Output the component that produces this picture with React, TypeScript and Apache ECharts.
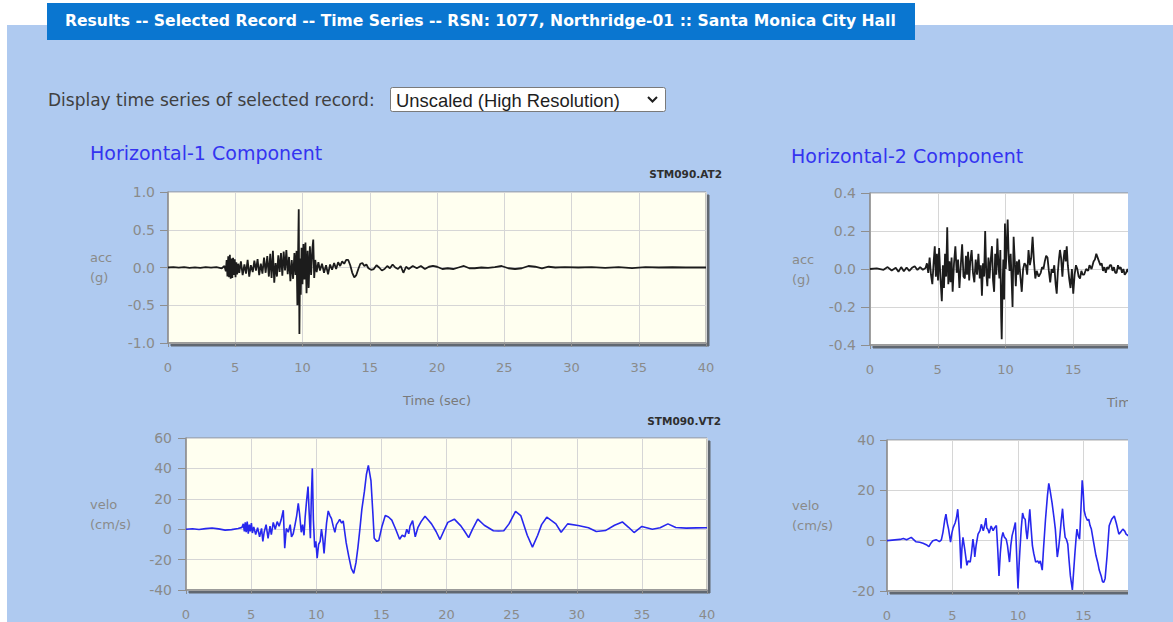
import React, { useEffect, useRef } from "react";
import * as echarts from "echarts";

// ---- Record metadata -------------------------------------------------------
const HEADER_TEXT =
  "Results -- Selected Record -- Time Series -- RSN: 1077, Northridge-01 :: Santa Monica City Hall";
const SELECT_LABEL = "Display time series of selected record:";
const SELECT_VALUE = "Unscaled (High Resolution)";
const COMPONENT_TITLES = ["Horizontal-1 Component", "Horizontal-2 Component"];
const FILE_NAMES = ["STM090.AT2", "STM090.VT2"];
const TIME_AXIS_NAME = "Time (sec)";
const ACC_AXIS_NAME = "acc\n(g)";
const VEL_AXIS_NAME = "velo\n(cm/s)";

// time axis (seconds)
const TIME_MIN = 0;
const TIME_MAX = 40;
const TIME_STEP = 5;

// value axes [min, max, step]
const H1_ACC_RANGE = [-1, 1, 0.5];
const H1_VEL_RANGE = [-40, 60, 20];
const H2_ACC_RANGE = [-0.4, 0.4, 0.2];
const H2_VEL_RANGE = [-20, 40, 20];

// ---- Horizontal-1 acceleration [t (s), acc (g)] -----------------------------
const H1_ACC: [number, number][] = [
  [0, 0], [0.4, 0.004], [0.8, -0.003], [1.2, 0.005], [1.6, -0.004], [2.0, 0.003], [2.4, -0.005],
  [2.8, 0.004], [3.2, -0.003], [3.6, 0.006], [4.0, -0.01], [4.2, 0.02],
  [4.3, -0.05], [4.36, 0.1], [4.42, -0.12], [4.48, 0.15], [4.54, -0.13], [4.6, 0.17], [4.66, -0.15],
  [4.72, 0.12], [4.78, -0.14], [4.84, 0.13], [4.9, -0.1], [4.96, 0.11], [5.02, -0.13], [5.08, 0.07],
  [5.14, -0.09], [5.22, 0.05], [5.3, -0.07], [5.42, 0.08], [5.55, -0.1], [5.68, 0.04], [5.8, -0.08],
  [5.92, 0.1], [6.04, -0.12], [6.16, 0.03], [6.3, -0.06], [6.42, 0.09], [6.54, -0.04], [6.66, 0.11],
  [6.78, -0.1], [6.9, 0.05], [7.02, -0.08], [7.14, 0.13], [7.26, -0.07], [7.38, 0.15], [7.5, -0.12],
  [7.6, 0.18], [7.7, -0.14], [7.8, 0.22], [7.9, -0.2], [8.0, 0.06], [8.1, -0.12], [8.2, 0.16],
  [8.3, -0.06], [8.4, 0.19], [8.5, -0.11], [8.6, 0.21], [8.7, -0.04], [8.8, 0.23], [8.9, -0.09],
  [9.0, 0.14], [9.1, -0.18], [9.2, 0.1], [9.3, -0.15], [9.4, 0.19], [9.48, -0.1], [9.56, 0.22],
  [9.62, -0.5], [9.67, 0.15], [9.72, 0.77], [9.77, -0.88], [9.82, 0.12], [9.87, -0.36], [9.93, 0.26],
  [10.0, -0.22], [10.07, 0.31], [10.14, -0.16], [10.22, 0.33], [10.3, -0.34], [10.38, 0.22],
  [10.46, -0.27], [10.55, 0.28], [10.64, -0.1], [10.73, 0.24], [10.8, 0.37], [10.87, -0.14],
  [10.95, 0.1], [11.05, -0.06], [11.18, 0.07], [11.3, -0.04], [11.45, 0.05], [11.6, -0.07],
  [11.75, 0.03], [11.9, -0.09], [12.05, 0.04], [12.2, -0.03], [12.35, 0.06], [12.5, -0.02],
  [12.65, 0.07], [12.8, 0.02], [12.95, 0.08], [13.1, 0.05], [13.25, 0.1], [13.4, 0.1], [13.55, 0.03],
  [13.7, -0.07], [13.85, -0.13], [14.0, -0.1], [14.15, -0.02], [14.3, 0.05], [14.45, 0.06],
  [14.6, 0.02], [14.75, 0.04], [14.9, -0.01], [15.1, -0.03], [15.3, -0.02], [15.5, 0.03], [15.7, 0.0],
  [15.9, -0.04], [16.1, -0.02], [16.3, 0.02], [16.5, -0.01], [16.7, 0.04], [16.9, 0.0], [17.1, -0.02],
  [17.3, 0.02], [17.5, -0.07], [17.7, 0.01], [17.9, -0.02], [18.2, 0.02], [18.5, -0.01], [18.8, 0.02],
  [19.1, -0.02], [19.4, 0.01], [19.7, 0.02], [20.0, 0.01], [20.4, -0.02], [20.8, -0.01], [21.2, -0.02],
  [21.6, 0.0], [22.0, 0.02], [22.4, -0.01], [22.8, -0.01], [23.3, 0.0], [23.8, -0.005], [24.3, 0.005],
  [24.8, 0.02], [25.3, -0.01], [25.8, -0.02], [26.3, -0.01], [26.8, 0.02], [27.3, 0.01], [27.8, -0.01],
  [28.3, 0.01], [28.8, 0.0], [29.5, 0.005], [30.5, 0.0], [31.5, 0.005], [32.5, -0.005], [33.5, 0.005],
  [34.5, -0.008], [35.5, 0.005], [36.5, 0.0], [37.5, 0.003], [38.5, 0.0], [39.5, 0.002], [40, 0],
];

// ---- Horizontal-1 velocity [t (s), vel (cm/s)] ------------------------------
const H1_VEL: [number, number][] = [
  [0, 0], [0.5, 0.3], [1.0, -0.2], [1.5, 0.4], [2.0, 0.8], [2.5, 0.2], [3.0, -0.6], [3.5, -0.3],
  [4.0, 0.5], [4.3, 1.2], [4.4, 3.5], [4.48, -1.5], [4.55, 4.5], [4.62, -2], [4.7, 5], [4.78, -3],
  [4.86, 3], [4.94, -1.5], [5.02, 4], [5.1, -2.5], [5.2, 1.5], [5.35, -3.5], [5.5, 1], [5.65, -5],
  [5.8, 0.5], [5.9, -8], [6.0, -2], [6.15, 3], [6.3, -6], [6.45, 2], [6.55, -3.5], [6.7, 4.5],
  [6.85, 0], [7.0, 5], [7.15, 2], [7.3, 6], [7.47, 12.5], [7.58, -12.5], [7.7, 0.5], [7.85, -2],
  [8.0, 3], [8.1, -5], [8.23, -3], [8.35, 2], [8.5, 9], [8.62, 17], [8.72, 10], [8.85, -2], [8.95, 3],
  [9.06, -4], [9.15, 8], [9.25, 18], [9.37, 28], [9.45, 12], [9.55, -6], [9.62, 20], [9.7, 40],
  [9.78, 6], [9.88, -12], [9.97, -8], [10.07, -19], [10.18, -10], [10.3, -8], [10.4, 0], [10.5, -6],
  [10.6, -16], [10.7, -5], [10.79, 4], [10.92, 12], [11.05, 9], [11.17, 7], [11.3, 2], [11.43, -2],
  [11.55, 3], [11.7, 5], [11.8, 6.5], [11.95, 4], [12.07, 5.5], [12.3, -9], [12.5, -18], [12.7, -26],
  [12.88, -29], [13.05, -22], [13.2, -12], [13.35, 0], [13.5, 13], [13.7, 25], [13.85, 36], [14.0, 42],
  [14.2, 32], [14.35, 10], [14.45, -6], [14.65, -8], [14.8, -7.5], [15.05, 2], [15.3, 9], [15.55, 8],
  [15.8, 6], [16.1, 0], [16.4, -6.6], [16.6, -4], [16.8, -5], [16.95, 0], [17.1, -3], [17.2, 2],
  [17.4, 5.6], [17.6, -5], [17.8, 1], [18.05, 5], [18.35, 8.5], [18.6, 6], [18.85, 3.5], [19.2, -1.5],
  [19.5, -6.8], [19.8, -1], [20.1, 4.5], [20.6, 6.6], [21.1, 2.2], [21.4, -1.5], [21.7, -5.5],
  [22.0, 0], [22.4, 6.6], [22.9, 2.6], [23.6, -1], [24.0, -1.2], [24.4, -1], [24.8, 3.5], [25.3, 11.8],
  [25.7, 9], [26.2, -4], [26.6, -11.8], [27.0, -4], [27.3, 3], [27.7, 7.9], [28.4, 3.5], [28.8, -2],
  [29.3, 3.5], [30.1, 2.4], [30.9, 0.9], [31.5, -1.5], [32.2, -0.9], [32.9, 2.6], [33.5, 4.8],
  [34.0, 1.1], [34.4, -2.2], [35.0, 1.8], [35.8, 0], [36.4, 0.9], [37.0, 3.5], [37.6, 1.1],
  [38.4, 0.7], [39.2, 0.9], [40, 1],
];

// ---- Horizontal-2 acceleration [t (s), acc (g)] -----------------------------
const H2_ACC: [number, number][] = [
  [0, 0], [0.5, 0.003], [1.0, -0.004], [1.3, 0.01], [1.6, -0.008], [1.9, 0.006], [2.1, -0.015],
  [2.3, 0.01], [2.5, -0.012], [2.7, 0.008], [2.9, -0.01], [3.1, 0.006], [3.3, 0.015], [3.5, -0.005],
  [3.7, 0.01], [3.9, -0.004], [4.1, 0.005], [4.2, 0.03], [4.3, -0.02], [4.4, 0.06], [4.5, -0.03],
  [4.6, -0.08], [4.7, 0.04], [4.78, 0.12], [4.86, -0.04], [4.94, 0.08], [5.02, -0.06], [5.1, 0.11],
  [5.2, -0.05], [5.3, -0.17], [5.38, 0.02], [5.46, -0.1], [5.54, 0.08], [5.62, -0.04], [5.7, 0.22],
  [5.78, -0.08], [5.86, 0.04], [5.94, -0.07], [6.02, 0.06], [6.1, -0.12], [6.2, 0.03], [6.3, 0.12],
  [6.4, -0.02], [6.5, 0.05], [6.6, -0.1], [6.7, 0.02], [6.8, 0.13], [6.9, -0.04], [7.0, -0.05],
  [7.08, 0.07], [7.16, -0.03], [7.24, 0.09], [7.32, -0.06], [7.4, 0.04], [7.5, 0.1], [7.6, -0.02],
  [7.7, -0.07], [7.8, 0.05], [7.9, -0.03], [8.0, 0.08], [8.1, -0.05], [8.18, 0.02], [8.26, -0.14],
  [8.34, 0.03], [8.42, -0.04], [8.5, 0.2], [8.58, -0.02], [8.66, -0.09], [8.74, 0.06], [8.82, -0.05],
  [8.9, 0.04], [9.0, 0.12], [9.08, -0.06], [9.16, -0.12], [9.24, 0.08], [9.32, -0.03], [9.4, 0.16],
  [9.48, 0.02], [9.55, -0.05], [9.62, 0.1], [9.68, -0.25], [9.72, -0.37], [9.78, -0.1], [9.84, 0.05],
  [9.9, -0.16], [9.96, 0.24], [10.02, 0.0], [10.08, 0.1], [10.16, 0.26], [10.24, 0.05], [10.3, -0.01],
  [10.38, 0.08], [10.45, -0.05], [10.52, -0.2], [10.6, 0.17], [10.68, 0.05], [10.76, -0.09],
  [10.84, 0.04], [10.92, -0.03], [11.0, 0.05], [11.1, -0.04], [11.2, -0.12], [11.3, 0.0], [11.4, 0.03],
  [11.5, 0.02], [11.6, -0.03], [11.7, 0.1], [11.8, 0.02], [11.9, 0.06], [12.0, 0.17], [12.1, 0.04],
  [12.2, -0.05], [12.3, -0.01], [12.45, -0.04], [12.6, -0.02], [12.7, 0.01], [12.8, 0.0], [12.9, 0.04],
  [13.0, 0.07], [13.1, 0.06], [13.2, -0.01], [13.3, -0.07], [13.4, 0.0], [13.5, -0.02], [13.6, 0.02],
  [13.7, -0.08], [13.78, -0.13], [13.86, -0.02], [13.94, 0.05], [14.02, 0.1], [14.1, 0.06],
  [14.2, -0.04], [14.28, 0.05], [14.36, 0.1], [14.44, 0.04], [14.52, 0.12], [14.6, 0.02], [14.7, -0.05],
  [14.8, -0.1], [14.9, 0.0], [15.0, -0.13], [15.1, -0.03], [15.2, 0.02], [15.3, 0.0], [15.4, -0.04],
  [15.5, -0.05], [15.6, -0.01], [15.7, -0.03], [15.8, -0.03], [15.95, 0.0], [16.1, -0.01], [16.2, 0.02],
  [16.35, 0.0], [16.5, 0.04], [16.6, 0.05], [16.7, 0.08], [16.8, 0.06], [16.9, 0.04], [17.0, 0.02],
  [17.1, 0.03], [17.2, -0.01], [17.3, 0.01], [17.4, -0.02], [17.5, 0.01], [17.6, 0.0], [17.7, 0.02],
  [17.8, 0.02], [17.9, -0.01], [18.0, 0.01], [18.1, -0.02], [18.2, -0.02], [18.3, 0.02], [18.4, 0.0],
  [18.5, 0.01], [18.6, -0.02], [18.7, 0.0], [18.8, -0.03], [18.9, -0.02], [19.0, 0.0], [19.1, -0.02],
  [19.3, 0.01], [19.5, -0.01],
];

// ---- Horizontal-2 velocity [t (s), vel (cm/s)] ------------------------------
const H2_VEL: [number, number][] = [
  [0, 0], [0.6, 0.3], [1.0, 0.5], [1.25, 0.9], [1.5, 0.4], [1.85, 1.3], [2.2, -0.4], [2.5, -0.6],
  [2.75, -1], [3.0, -1.6], [3.2, -2.4], [3.35, -1], [3.5, 0], [3.75, 0.4], [4.0, -0.4], [4.15, 0.3],
  [4.27, 3.3], [4.4, 8], [4.5, 10.5], [4.6, 7], [4.7, 4.6], [4.85, -0.6], [4.95, 3], [5.05, 5.2],
  [5.2, 7], [5.3, 9], [5.4, 12.5], [5.48, 7], [5.55, 1.3], [5.65, -11], [5.72, -3], [5.8, 1.3],
  [5.95, -4], [6.1, -9.8], [6.2, -8], [6.35, -8.5], [6.45, -5], [6.56, 0.6], [6.65, -3], [6.7, -6.5],
  [6.8, -2], [6.95, 2.6], [7.1, 4], [7.2, 6.5], [7.35, 3.9], [7.45, 6], [7.55, 9], [7.62, 5], [7.7, 4.5],
  [7.8, 3], [7.95, 5.8], [8.1, 4], [8.2, 5], [8.35, 6], [8.45, -3], [8.55, -14], [8.65, -5], [8.75, 1],
  [8.85, 3.3], [8.95, 1.5], [9.1, 0.6], [9.2, -2], [9.35, -8.5], [9.45, -2], [9.55, 2], [9.65, 4],
  [9.8, 7.2], [9.9, -6], [10.0, -19], [10.08, -10], [10.15, -3.3], [10.25, 5], [10.35, 11], [10.45, 9],
  [10.55, 8.5], [10.62, 4], [10.7, 0.6], [10.8, 6], [10.9, 12.5], [11.0, 5], [11.1, -2], [11.2, -5],
  [11.35, -8.5], [11.5, -8], [11.6, -9], [11.7, -8], [11.85, -11.7], [11.95, -3], [12.1, 8.5],
  [12.25, 18], [12.35, 22.8], [12.45, 20], [12.6, 15], [12.75, 9], [12.85, 4.6], [13.0, -6.5],
  [13.1, -3], [13.2, 2], [13.3, 8], [13.4, 12.7], [13.5, 6], [13.6, 1.3], [13.7, 0.5], [13.8, -1.3],
  [13.9, -8], [14.0, -14], [14.15, -19.6], [14.25, -12], [14.35, -4.6], [14.45, 2], [14.5, 4.6],
  [14.6, 2], [14.7, 0.6], [14.8, 12], [14.9, 24], [14.97, 20], [15.05, 12], [15.15, 9.8], [15.3, 8],
  [15.4, 8.5], [15.5, 6], [15.6, 4.6], [15.75, 0], [15.95, -5.9], [16.1, -9], [16.2, -11.7],
  [16.35, -14], [16.45, -16.3], [16.55, -16.5], [16.65, -15], [16.8, -6], [16.96, 5.9], [17.15, 8.5],
  [17.35, 9.8], [17.5, 7], [17.7, 2.6], [17.85, 3.5], [18.0, 4.6], [18.15, 3.8], [18.25, 2.6],
  [18.4, 2], [18.6, 1.5], [18.8, 2.5], [19.0, 3], [19.3, 1],
];

// ---- Look ------------------------------------------------------------------
const FONT = "DejaVu Sans";
const PAGE_BG = "#ffffff";
const PANEL_BG = "#afcaf0";
const TAB_BG = "#0a76d0";
const AXIS_GREY = "#8a8a8a";
const LINE_GREY = "#8e8e8e";
const SPLIT_GREY = "#d6d6d6";
const ACC_COLOR = "#1c1c1c";
const VEL_COLOR = "#2727ee";
const TITLE_BLUE = "#3434f0";

// The drawing surface is wider than the visible page column; the right-hand
// plots run past the column edge and are cut off there.
const SURFACE_WIDTH = 1440;
const COLUMN_WIDTH = 1128;

type Panel = {
  data: [number, number][];
  range: number[];
  digits: number;
  color: string;
  plotBg: string;
  box: { left: number; top: number; width: number; height: number };
  yLabelMargin: number;
  yTickLen: number;
  yNameGap: number;
  yName: string;
  xName?: string;
  // last time tick that still falls inside the page column
  lastTick: number;
};

const PANELS: Panel[] = [
  {
    data: H1_ACC, range: H1_ACC_RANGE, digits: 1, color: ACC_COLOR, plotBg: "#fffff0",
    box: { left: 168, top: 192, width: 538, height: 151 },
    yLabelMargin: 13, yTickLen: 8, yNameGap: 78, yName: ACC_AXIS_NAME, xName: TIME_AXIS_NAME,
    lastTick: 40,
  },
  {
    data: H1_VEL, range: H1_VEL_RANGE, digits: 0, color: VEL_COLOR, plotBg: "#fffff0",
    box: { left: 186, top: 438, width: 521, height: 152 },
    yLabelMargin: 14, yTickLen: 8, yNameGap: 96, yName: VEL_AXIS_NAME,
    lastTick: 40,
  },
  {
    data: H2_ACC, range: H2_ACC_RANGE, digits: 1, color: ACC_COLOR, plotBg: "#ffffff",
    box: { left: 870, top: 193, width: 542, height: 152 },
    yLabelMargin: 14, yTickLen: 9, yNameGap: 78, yName: ACC_AXIS_NAME, xName: TIME_AXIS_NAME,
    lastTick: 15,
  },
  {
    data: H2_VEL, range: H2_VEL_RANGE, digits: 0, color: VEL_COLOR, plotBg: "#ffffff",
    box: { left: 887, top: 440, width: 524, height: 153 },
    yLabelMargin: 12, yTickLen: 7, yNameGap: 95, yName: VEL_AXIS_NAME,
    lastTick: 15,
  },
];

function buildOption() {
  const axisText = { color: AXIS_GREY, fontFamily: FONT, fontSize: 13 };

  const grid = PANELS.map((p) => ({
    ...p.box,
    show: true,
    backgroundColor: p.plotBg,
    borderColor: LINE_GREY,
    borderWidth: 1,
    shadowColor: "rgba(70,70,70,0.75)",
    shadowBlur: 1,
    shadowOffsetX: 3,
    shadowOffsetY: 3,
  }));

  const xAxis = PANELS.map((p, i) => ({
    type: "value",
    gridIndex: i,
    min: TIME_MIN,
    max: TIME_MAX,
    interval: TIME_STEP,
    name: p.xName || "",
    nameLocation: "middle",
    nameGap: 57,
    nameTextStyle: { ...axisText, color: "#7a7a7a", verticalAlign: "middle" },
    axisLine: { show: true, onZero: false, lineStyle: { color: LINE_GREY, width: 1.5 } },
    axisTick: { show: true, length: 4, lineStyle: { color: LINE_GREY } },
    axisLabel: {
      ...axisText,
      margin: 18,
      formatter: (v: number) => (v > p.lastTick ? "" : String(v)),
    },
    splitLine: { show: true, lineStyle: { color: SPLIT_GREY, width: 1 } },
  }));

  const yAxis = PANELS.map((p, i) => ({
    type: "value",
    gridIndex: i,
    min: p.range[0],
    max: p.range[1],
    interval: p.range[2],
    name: p.yName,
    nameLocation: "middle",
    nameRotate: 0,
    nameGap: p.yNameGap,
    nameTextStyle: {
      ...axisText,
      fontSize: 13,
      align: "left",
      verticalAlign: "middle",
      lineHeight: 20,
    },
    axisLine: { show: true, onZero: false, lineStyle: { color: LINE_GREY, width: 1.5 } },
    axisTick: { show: true, length: p.yTickLen, lineStyle: { color: LINE_GREY } },
    axisLabel: {
      ...axisText,
      fontSize: 14,
      margin: p.yLabelMargin,
      formatter: (v: number) => v.toFixed(p.digits),
    },
    splitLine: { show: true, lineStyle: { color: SPLIT_GREY, width: 1 } },
  }));

  const series = PANELS.map((p, i) => ({
    type: "line",
    xAxisIndex: i,
    yAxisIndex: i,
    data: p.data,
    showSymbol: false,
    symbol: "none",
    silent: true,
    clip: true,
    lineStyle: { color: p.color, width: p.color === ACC_COLOR ? 1.8 : 1.6 },
    z: 3,
  }));

  const graphic = [
    // page tab header
    {
      type: "rect",
      shape: { x: 47, y: 3, width: 868, height: 37 },
      style: { fill: TAB_BG },
    },
    {
      type: "text",
      x: 65,
      y: 21,
      style: {
        text: HEADER_TEXT,
        fill: "#ffffff",
        fontFamily: FONT,
        fontWeight: "bold",
        fontSize: 15.6,
        verticalAlign: "middle",
      },
    },
    // record selector
    {
      type: "text",
      x: 48,
      y: 100,
      style: {
        text: SELECT_LABEL,
        fill: "#404040",
        fontFamily: FONT,
        fontSize: 17,
        verticalAlign: "middle",
      },
    },
    {
      type: "rect",
      shape: { x: 390.5, y: 87.5, width: 275, height: 24, r: 2 },
      style: { fill: "#ffffff", stroke: "#7a7a7a", lineWidth: 1 },
    },
    {
      type: "text",
      x: 396,
      y: 100,
      style: {
        text: SELECT_VALUE,
        fill: "#1e1e1e",
        fontFamily: "Liberation Sans",
        fontSize: 18.4,
        verticalAlign: "middle",
      },
    },
    {
      type: "polyline",
      shape: { points: [[648, 97], [652.5, 101.5], [657, 97]] },
      style: { stroke: "#1e1e1e", lineWidth: 2, fill: "none" },
    },
    // component titles
    {
      type: "text",
      x: 90,
      y: 153,
      style: {
        text: COMPONENT_TITLES[0],
        fill: TITLE_BLUE,
        fontFamily: FONT,
        fontSize: 19,
        verticalAlign: "middle",
      },
    },
    {
      type: "text",
      x: 791,
      y: 156,
      style: {
        text: COMPONENT_TITLES[1],
        fill: TITLE_BLUE,
        fontFamily: FONT,
        fontSize: 19,
        verticalAlign: "middle",
      },
    },
    // file tags
    {
      type: "text",
      x: 722,
      y: 174,
      style: {
        text: FILE_NAMES[0],
        fill: "#2e2e2e",
        fontFamily: FONT,
        fontWeight: "bold",
        fontSize: 10.5,
        align: "right",
        verticalAlign: "middle",
      },
    },
    {
      type: "text",
      x: 721,
      y: 421,
      style: {
        text: FILE_NAMES[1],
        fill: "#2e2e2e",
        fontFamily: FONT,
        fontWeight: "bold",
        fontSize: 10.5,
        align: "right",
        verticalAlign: "middle",
      },
    },
  ];

  return {
    animation: false,
    backgroundColor: "transparent",
    grid,
    xAxis,
    yAxis,
    series,
    graphic,
  };
}

export default function App() {
  const ref = useRef<HTMLDivElement>(null);

  useEffect(() => {
    if (!ref.current) return;
    const chart = echarts.init(ref.current, undefined, { renderer: "svg" });
    chart.setOption(buildOption() as any);
    return () => chart.dispose();
  }, []);

  return (
    <div
      style={{
        position: "fixed",
        left: 0,
        top: 0,
        width: 1173,
        height: 622,
        background: PAGE_BG,
        overflow: "hidden",
      }}
    >
      <div
        style={{
          position: "absolute",
          left: 7,
          top: 25,
          width: 1166,
          height: 597,
          background: PANEL_BG,
        }}
      />
      <div
        style={{
          position: "absolute",
          left: 0,
          top: 0,
          width: COLUMN_WIDTH,
          height: 622,
          overflow: "hidden",
        }}
      >
        <div ref={ref} style={{ width: SURFACE_WIDTH, height: 622 }} />
      </div>
    </div>
  );
}
